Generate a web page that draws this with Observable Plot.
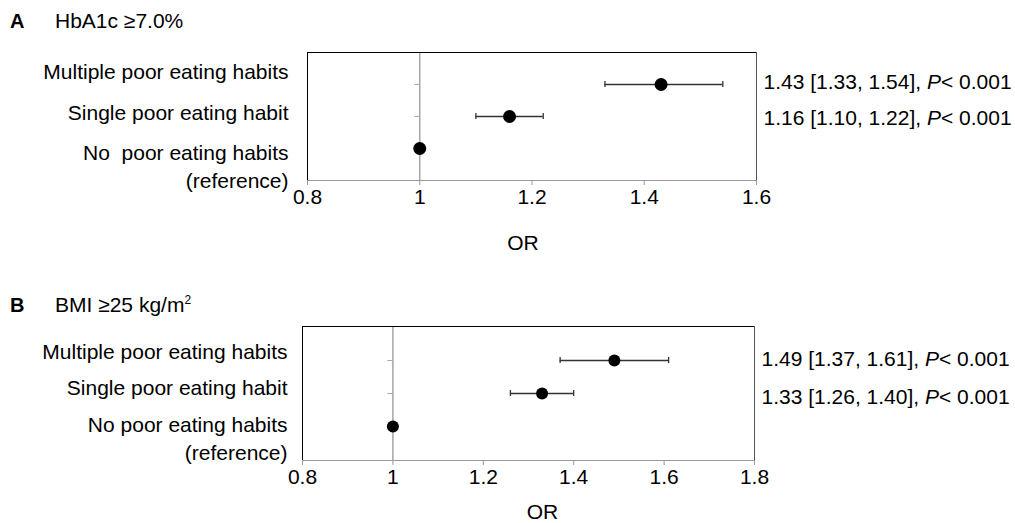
<!DOCTYPE html>
<html>
<head>
<meta charset="utf-8">
<script src="https://cdn.jsdelivr.net/npm/d3@7"></script>
<script src="https://cdn.jsdelivr.net/npm/@observablehq/plot@0.6"></script>
<style>
  html, body { margin: 0; padding: 0; background: #fff; }
  body { font-family: "Liberation Sans", Arial, sans-serif; color: #000; }
  #wrap { position: relative; width: 1015px; height: 523px; overflow: hidden; }
  .panel-title { position: absolute; left: 10px; font-size: 21px; white-space: nowrap; line-height: 1; }
  .panel-title b { display: inline-block; width: 45px; font-size: 20px; }
  .panel-title sup { font-size: 12px; vertical-align: 8px; }
  .plot { position: absolute; left: 0; }
  svg text { white-space: pre; }
</style>
</head>
<body>
<div id="wrap">
  <div class="panel-title" style="top:10px"><b>A</b>HbA1c ≥7.0%</div>
  <div class="panel-title" style="top:294px"><b>B</b>BMI ≥25 kg/m<sup>2</sup></div>
  <div id="plotA" class="plot" style="top:0px"></div>
  <div id="plotB" class="plot" style="top:261px"></div>
</div>
<script>
// ---- data ----
const categoriesA = ["Multiple poor eating habits", "Single poor eating habit", "No  poor eating habits\n(reference)"];
const categoriesB = ["Multiple poor eating habits", "Single poor eating habit", "No poor eating habits\n(reference)"];

const orA = [1.43, 1.16, 1.00];
const lowerA = [1.33, 1.10, null];
const upperA = [1.54, 1.22, null];
const pA = ["< 0.001", "< 0.001", null];

const orB = [1.49, 1.33, 1.00];
const lowerB = [1.37, 1.26, null];
const upperB = [1.61, 1.40, null];
const pB = ["< 0.001", "< 0.001", null];

const ticksA = [0.8, 1, 1.2, 1.4, 1.6];
const ticksB = [0.8, 1, 1.2, 1.4, 1.6, 1.8];
const referenceOR = 1;
const axisLabel = "OR";

function rows(cats, or, lo, hi, p) {
  return cats.map((c, i) => ({cat: c, or: or[i], lo: lo[i], hi: hi[i], p: p[i]}));
}

function forest(cats, data, ticks, L) {
  const font = "Liberation Sans, Arial, sans-serif";
  const ci = data.filter(d => d.lo != null);
  const labelMarks = cats.map((c, i) => Plot.text([c], {
    y: d => d, frameAnchor: "left", textAnchor: "end",
    dx: L.labelDx, dy: L.labelDy[i], lineHeight: 1.33,
    fontSize: 21, fill: "#000"
  }));
  const annMarks = ci.map((d, i) => Plot.text([d], {
    y: "cat", frameAnchor: "right", textAnchor: "start", dx: 7, dy: L.annDy[i],
    text: r => `${r.or.toFixed(2)} [${r.lo.toFixed(2)}, ${r.hi.toFixed(2)}], P${r.p}`,
    fontSize: 21, fill: "#000", className: "ann"
  }));
  const svg = Plot.plot({
    width: 1015, height: L.height,
    marginLeft: L.ml, marginRight: L.mr, marginTop: L.mt, marginBottom: L.mb,
    style: {fontFamily: font, fontSize: "21px", background: "transparent", overflow: "visible"},
    x: {domain: [ticks[0], ticks[ticks.length - 1]], ticks: ticks, tickFormat: d => String(d)},
    y: {type: "point", domain: cats, padding: 1, axis: null},
    marks: [
      Plot.ruleX([referenceOR], {stroke: "#aaa", strokeWidth: 1.6}),
      Plot.ruleY(cats, {y: d => d, x1: () => referenceOR, x2: () => referenceOR, insetLeft: -5, stroke: "#aaa"}),
      Plot.frame({stroke: "#000"}),
      Plot.ruleX([ticks[ticks.length - 1]], {stroke: "#555"}),
      Plot.frame({anchor: "bottom", stroke: "#999"}),
      Plot.axisX({ticks: ticks, tickFormat: d => String(d), tickSize: 5, tickPadding: 4, stroke: "#999", fill: "#000", fontSize: 21, label: null}),
      Plot.text([axisLabel], {frameAnchor: "bottom", dx: L.orDx, dy: L.orDy, fontSize: 21, fill: "#000"}),
      Plot.ruleY(ci, {y: "cat", x1: "lo", x2: "hi", stroke: "#333", strokeWidth: 1.3}),
      Plot.ruleX(ci, {y1: "cat", y2: "cat", x: "lo", insetTop: -3, insetBottom: -3, stroke: "#333", strokeWidth: 1.3}),
      Plot.ruleX(ci, {y1: "cat", y2: "cat", x: "hi", insetTop: -3, insetBottom: -3, stroke: "#333", strokeWidth: 1.3}),
      Plot.dot(data, {y: "cat", x: "or", r: L.r, fill: "#000", stroke: "none"}),
      ...labelMarks,
      ...annMarks
    ]
  });
  // italicise the "P" in each annotation
  d3.select(svg).selectAll(".ann text").each(function () {
    const t = d3.select(this);
    const s = t.text();
    const k = s.lastIndexOf("P<");
    t.text(null);
    t.append("tspan").text(s.slice(0, k));
    t.append("tspan").attr("font-style", "italic").text("P");
    t.append("tspan").text(s.slice(k + 1));
  });
  return svg;
}

document.getElementById("plotA").appendChild(forest(
  categoriesA, rows(categoriesA, orA, lowerA, upperA, pA), ticksA,
  {height: 260, ml: 307, mr: 259, mt: 52, mb: 80, labelDx: -19, labelDy: [-14, -5, 17], annDy: [-2, 2], orDx: -9, orDy: 69, r: 6.5}
));
document.getElementById("plotB").appendChild(forest(
  categoriesB, rows(categoriesB, orB, lowerB, upperB, pB), ticksB,
  {height: 262, ml: 302, mr: 261, mt: 65, mb: 63, labelDx: -15, labelDy: [-10, -7, 11], annDy: [-1, 4], orDx: 14, orDy: 58, r: 6}
));
</script>
</body>
</html>
